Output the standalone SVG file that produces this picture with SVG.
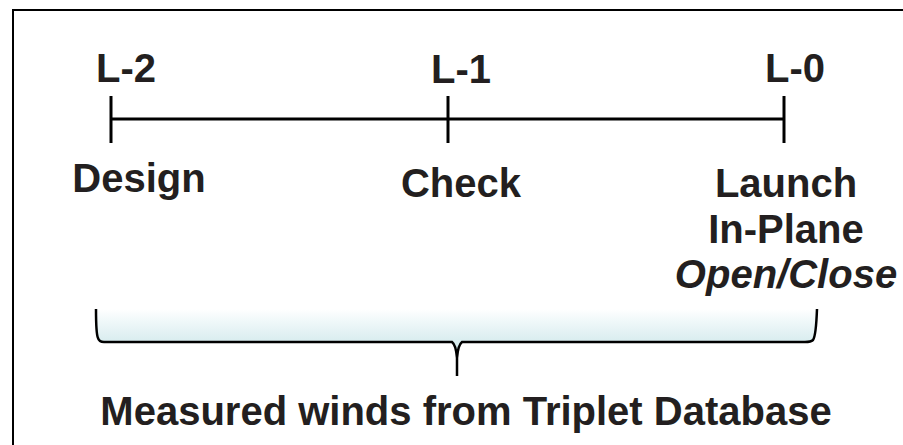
<svg xmlns="http://www.w3.org/2000/svg" width="903" height="445" viewBox="0 0 903 445">
<defs>
<style>
.t{font-family:"Liberation Sans",Arial,sans-serif;font-weight:bold;font-size:40px;fill:#231f20;text-anchor:middle}
.i{font-style:italic}
.ln{stroke:#000;stroke-width:3;fill:none}
</style>
<linearGradient id="g" x1="0" y1="0" x2="0" y2="1">
<stop offset="0" stop-color="#ffffff"/>
<stop offset="0.15" stop-color="#f2f9fa"/>
<stop offset="1" stop-color="#b2dade"/>
</linearGradient>
</defs>
<rect width="903" height="445" fill="#fff"/>
<rect x="13" y="10" width="900" height="445" fill="none" stroke="#000" stroke-width="2"/>
<g id="connectors">
<line class="ln" x1="111" y1="119" x2="784" y2="119"/>
</g>
<g id="L2">
<line class="ln" x1="111" y1="96" x2="111" y2="143"/>
<text class="t" x="126" y="82">L-2</text>
<text class="t" x="139" y="192">Design</text>
</g>
<g id="L1">
<line class="ln" x1="448" y1="96" x2="448" y2="143"/>
<text class="t" x="461" y="83">L-1</text>
<text class="t" x="461" y="197">Check</text>
</g>
<g id="L0">
<line class="ln" x1="784" y1="96" x2="784" y2="143"/>
<text class="t" x="795" y="82">L-0</text>
<text class="t" x="786" y="197">Launch</text>
<text class="t" x="786" y="243">In-Plane</text>
<text class="t i" x="786" y="288">Open/Close</text>
</g>
<g id="brace">
<path d="M96,309 L817,309 Q816,336 813,340 Q811,342 805,342 L462,342 Q458,345 457,358 L457,376 L457,358 Q456,345 452,342 L104,342 Q99,342 98,338 Q96,334 96,309 Z" fill="url(#g)" stroke="none"/>
<path d="M96,309 Q96,334 98,338 Q99,342 104,342 L452,342 Q456,345 457,358 L457,376 M457,358 Q458,345 462,342 L805,342 Q811,342 813,340 Q816,336 817,309" fill="none" stroke="#000" stroke-width="2.5"/>
</g>
<g id="caption">
<text class="t" x="466" y="425">Measured winds from Triplet Database</text>
</g>
</svg>
